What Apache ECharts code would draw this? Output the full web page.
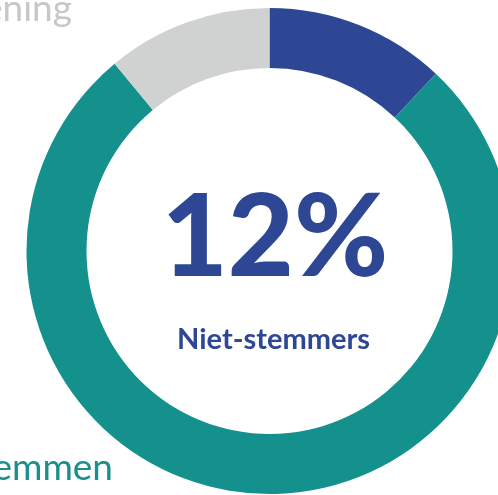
<!DOCTYPE html>
<html>
<head>
<meta charset="utf-8">
<style>
  html, body { margin: 0; padding: 0; background: #ffffff; }
  #chart { width: 498px; height: 495px; }
</style>
<script src="https://cdn.jsdelivr.net/npm/echarts@6/dist/echarts.min.js"></script>
</head>
<body>
<div id="chart"></div>
<script>
// Share of respondents per answer (percent)
const categories = ['Niet-stemmers', 'Stemmen', 'Geen mening'];
const values = [12, 77, 11];
const colors = ['#2e4795', '#14918d', '#d0d2d1'];
const labelColors = ['#2e4795', '#1a8f8b', '#c6c8c8'];

const chart = echarts.init(document.getElementById('chart'), null, { renderer: 'canvas' });

// Fixed spots for the outside labels, keyed by slice index
const labelSpots = {
  1: { x: 113, y: 487 },
  2: { x: 72, y: 28 }
};

chart.setOption({
  animation: false,
  series: [{
    type: 'pie',
    center: [269.5, 251],
    radius: [183, 243],
    startAngle: 90,
    clockwise: true,
    silent: true,
    avoidLabelOverlap: false,
    itemStyle: { borderWidth: 0 },
    label: {
      show: true,
      position: 'outside',
      formatter: '{b}',
      fontFamily: 'Lato',
      fontSize: 37,
      fontWeight: 'normal'
    },
    labelLine: { show: false },
    labelLayout: function (params) {
      const spot = labelSpots[params.dataIndex];
      if (!spot) return { x: -1000, y: -1000 };
      return { x: spot.x, y: spot.y, align: 'right', verticalAlign: 'bottom' };
    },
    data: categories.map((name, i) => ({
      name: name,
      value: values[i],
      itemStyle: { color: colors[i] },
      label: { color: labelColors[i], show: i !== 0 }
    }))
  }],
  graphic: [
    {
      type: 'text',
      style: {
        text: values[0] + '%',
        fill: '#2e4795',
        font: '900 114px Lato',
        textAlign: 'center',
        textVerticalAlign: 'bottom'
      },
      position: [275, 296]
    },
    {
      type: 'text',
      style: {
        text: categories[0],
        fill: '#2e4795',
        font: 'bold 29px Lato',
        textAlign: 'center',
        textVerticalAlign: 'bottom'
      },
      position: [273.5, 354]
    }
  ]
});
</script>
</body>
</html>
